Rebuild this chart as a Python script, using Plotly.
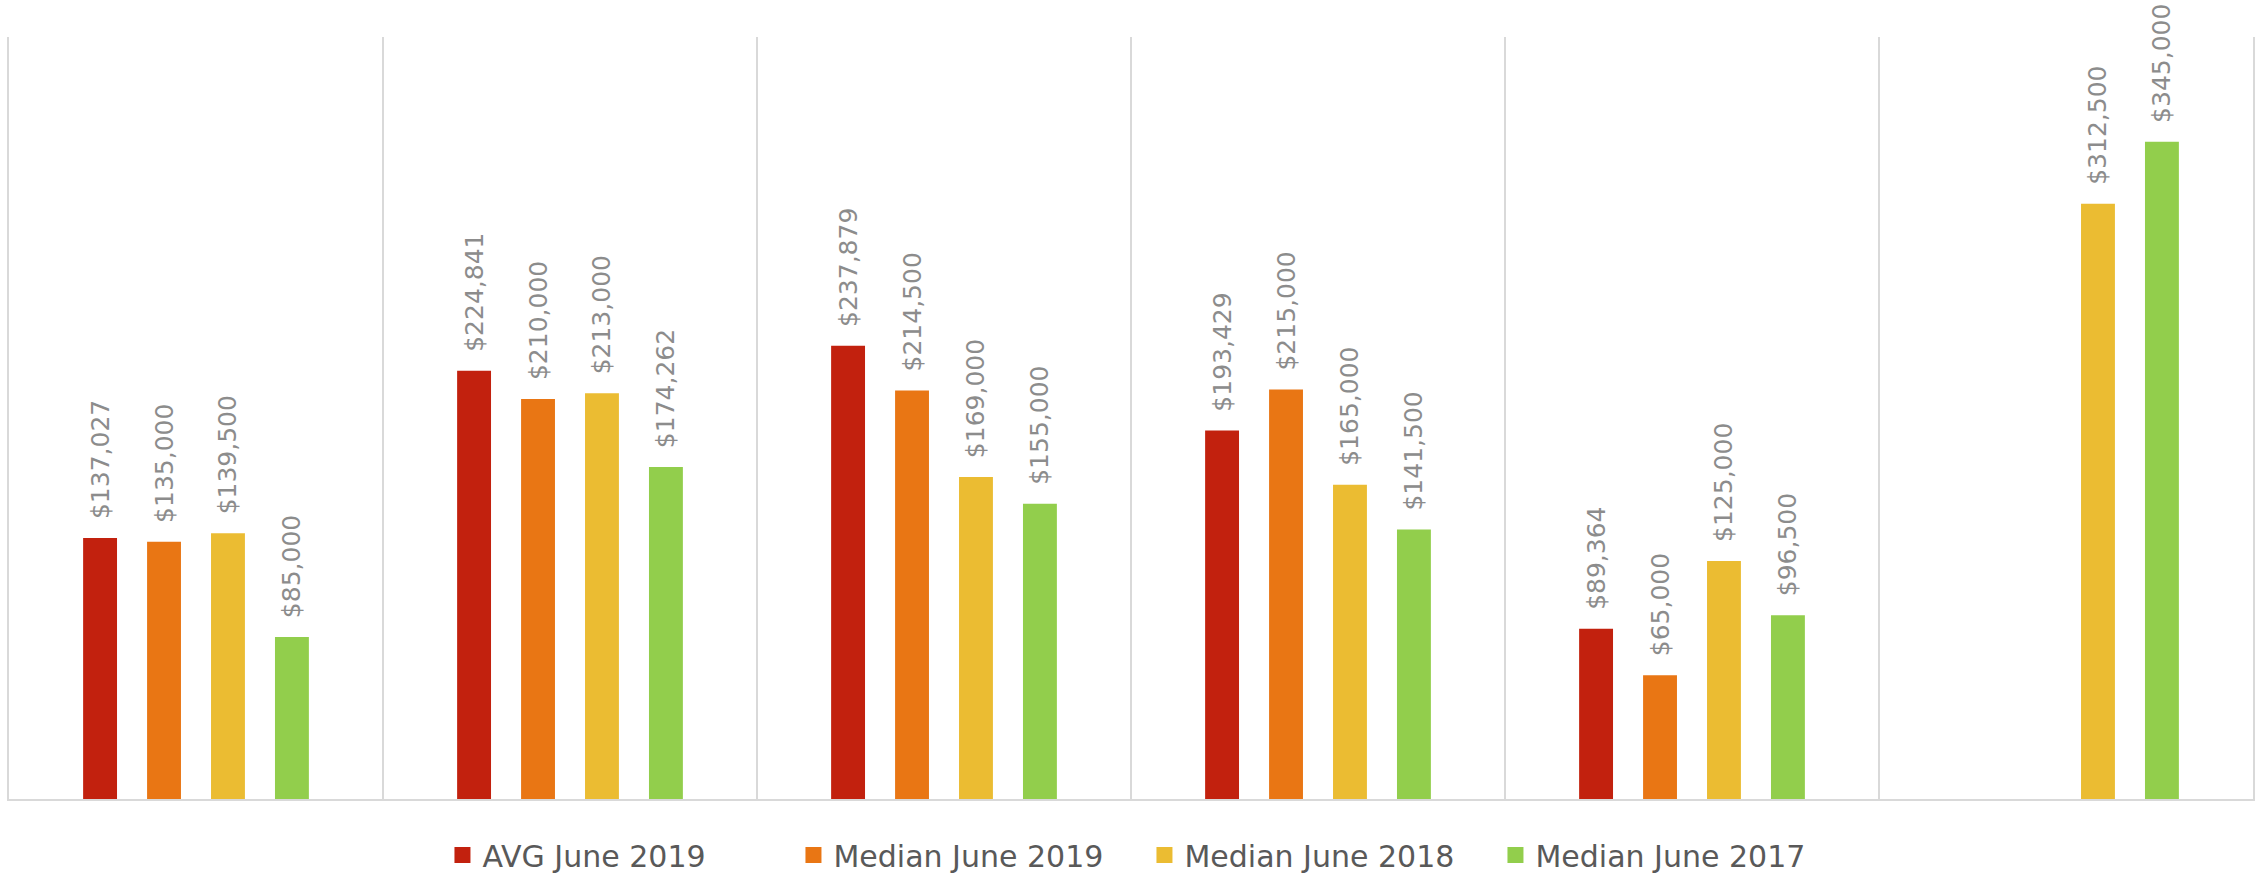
import plotly.graph_objects as go

categories = ["Group 1", "Group 2", "Group 3", "Group 4", "Group 5", "Group 6"]
series_names = ["AVG June 2019", "Median June 2019", "Median June 2018", "Median June 2017"]
avg_2019 = [137027, 224841, 237879, 193429, 89364, None]
median_2019 = [135000, 210000, 214500, 215000, 65000, None]
median_2018 = [139500, 213000, 169000, 165000, 125000, 312500]
median_2017 = [85000, 174262, 155000, 141500, 96500, 345000]
colors = ["#C2210E", "#E97614", "#EBBC32", "#92CE4C"]

series_values = [avg_2019, median_2019, median_2018, median_2017]

fig = go.Figure()
for name, vals, col in zip(series_names, series_values, colors):
    fig.add_trace(go.Bar(
        x=categories, y=vals, name=name, showlegend=False, legendgroup=name,
        marker=dict(color=col, line=dict(width=0)),
        texttemplate="\u00a0\u00a0$%{y:,.0f}", textposition="outside", textangle=-90,
        textfont=dict(family="DejaVu Sans", size=25, color="#8C8C8C"),
        constraintext="none", cliponaxis=False,
    ))
# legend entries with larger square swatches
for name, col in zip(series_names, colors):
    fig.add_trace(go.Scatter(
        x=[None], y=[None], mode="markers", name=name, legendgroup=name,
        marker=dict(symbol="square", size=17, color=col),
    ))

fig.update_layout(
    width=2264, height=875,
    margin=dict(l=9, r=11, t=37, b=76),
    paper_bgcolor="white", plot_bgcolor="white",
    barmode="group", bargap=0.316, bargroupgap=0.47,
    showlegend=True,
    legend=dict(orientation="h", x=0.506, xanchor="center", xref="paper",
                y=0.023, yanchor="middle", yref="container",
                font=dict(family="DejaVu Sans", size=30, color="#595959"),
                itemwidth=30, entrywidth=306, traceorder="normal"),
    xaxis=dict(type="category", tickson="boundaries", showgrid=True,
               gridcolor="#D9D9D9", gridwidth=2, showticklabels=False, ticks="",
               showline=True, linecolor="#D9D9D9", linewidth=2, zeroline=False),
    yaxis=dict(range=[0, 400000], showgrid=False, showticklabels=False, ticks="",
               zeroline=False, showline=True, mirror=True, linecolor="#D9D9D9", linewidth=2),
)

fig.write_html("out.html")
